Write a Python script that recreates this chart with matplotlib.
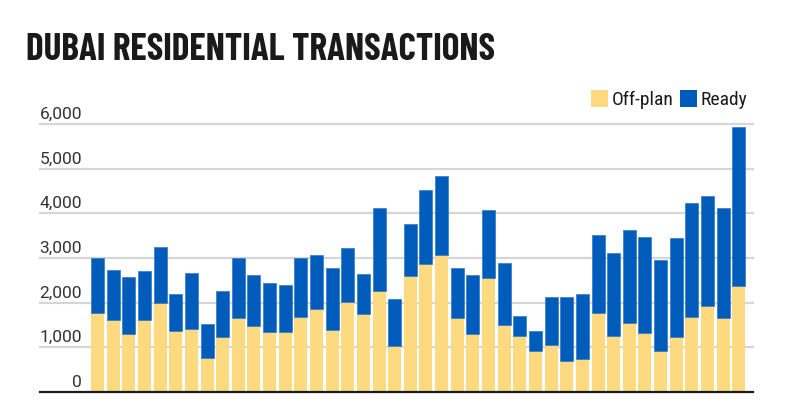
"""Dubai residential transactions

Stacked bar chart of monthly off-plan and ready residential transactions.
Saves the figure to out.png.
"""

import matplotlib.pyplot as plt
from matplotlib.patches import Rectangle
from matplotlib.transforms import blended_transform_factory

# Monthly transactions
offplan = [1776, 1603, 1289, 1603, 2000, 1372, 1401, 767, 1229, 1664,
           1484, 1350, 1350, 1678, 1865, 1394, 2014, 1745, 2261, 1035,
           2597, 2866, 3060, 1656, 1289, 2552, 1498, 1244, 915, 1058,
           684, 736, 1760, 1260, 1543, 1312, 915, 1229, 1686, 1933,
           1656, 2365]
ready = [1224, 1121, 1286, 1114, 1240, 814, 1271, 762, 1040, 1336,
         1136, 1098, 1053, 1322, 1195, 1390, 1203, 890, 1861, 1046,
         1174, 1667, 1787, 1128, 1338, 1518, 1399, 449, 457, 1068,
         1442, 1450, 1749, 1852, 2093, 2168, 2049, 2220, 2556, 2466,
         2474, 3559]
series_names = ['Off-plan', 'Ready']
yticks = [0, 1000, 2000, 3000, 4000, 5000, 6000]
title = 'DUBAI RESIDENTIAL TRANSACTIONS'

YELLOW = '#fdd97f'
BLUE = '#005cba'
GRID = '#d6d6d6'


def main():
    W, H = 785, 416
    fig = plt.figure(figsize=(W / 100, H / 100), dpi=100)
    ax = fig.add_axes([40 / W, 24 / H, 713 / W, 268 / H])

    x = list(range(len(offplan)))
    ax.bar(x, offplan, width=0.83, color=YELLOW, linewidth=0, zorder=3)
    ax.bar(x, ready, bottom=offplan, width=0.83, color=BLUE,
           edgecolor='#2f78c8', linewidth=0.5, zorder=3)

    ax.set_xlim(-3.68, 41.91)
    ax.set_ylim(0, 6000)
    for s in ax.spines.values():
        s.set_visible(False)
    ax.set_xticks([])
    ax.set_yticks([])

    # gridlines, with the labels sitting above them
    trans = blended_transform_factory(ax.transAxes, ax.transData)
    for v in yticks:
        if v == 0:
            ax.axhline(0, color='#1a1a1a', lw=1.6, zorder=4, clip_on=False)
        else:
            ax.axhline(v, color=GRID, lw=1.6, zorder=1, clip_on=False)
        ax.text(0.0589, v + 115, f'{v:,}', transform=trans, ha='right',
                va='baseline', fontsize=12.5, family='Roboto',
                color='#333333', zorder=5)

    # title
    fig.text(26 / W, 1 - 59.5 / H, title, family='Barlow Condensed',
             weight='bold', fontsize=26.8, color='#1a1a1a', va='baseline')

    # legend
    colors = [YELLOW, BLUE]
    sq_x = [591, 680]
    for name, c, px in zip(series_names, colors, sq_x):
        fig.patches.append(Rectangle((px / W, 1 - 106.5 / H), 17 / W, 16.5 / H,
                                     transform=fig.transFigure, color=c,
                                     linewidth=0))
        fig.text((px + 21) / W, 1 - 105 / H, name,
                 family='Roboto Condensed', fontsize=14,
                 color='#1a1a1a', va='baseline')

    fig.savefig('out.png', dpi=100)


if __name__ == '__main__':
    main()
